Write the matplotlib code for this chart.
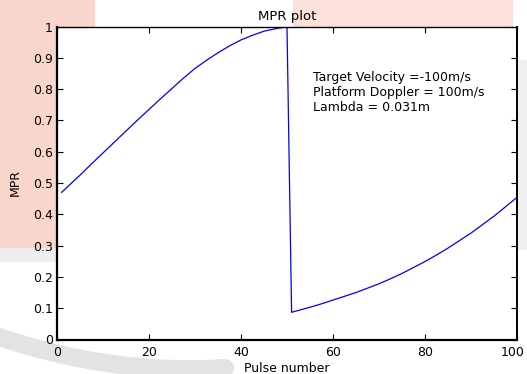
import matplotlib
matplotlib.use("Agg")
import matplotlib.pyplot as plt
from matplotlib.patches import FancyBboxPatch, Rectangle, PathPatch
from matplotlib.path import Path
from matplotlib.transforms import ScaledTranslation

plt.rcParams['font.family'] = ['DejaVu Sans']

# Data
pulse_first = [1, 5, 7.5, 10, 12.5, 15, 17.5, 20, 22.5, 25, 27.5, 30, 32.5, 35,
               37.5, 40, 42.5, 45, 47.5, 50]
mpr_first = [0.470, 0.525, 0.561, 0.596, 0.631, 0.666, 0.701, 0.735, 0.769, 0.802,
             0.835, 0.866, 0.892, 0.916, 0.938, 0.957, 0.972, 0.985, 0.993, 0.999]
pulse_second = [51, 52.5, 55, 57.5, 60, 62.5, 65, 67.5, 70, 72.5, 75, 77.5, 80,
                82.5, 85, 87.5, 90, 92.5, 95, 97.5, 100]
mpr_second = [0.087, 0.093, 0.103, 0.114, 0.126, 0.138, 0.150, 0.164, 0.178, 0.194,
              0.211, 0.230, 0.249, 0.270, 0.292, 0.316, 0.340, 0.367, 0.394, 0.424, 0.454]

pulses = pulse_first + pulse_second
mpr = mpr_first + mpr_second

x_ticks = [0, 20, 40, 60, 80, 100]
y_ticks = [0, 0.1, 0.2, 0.3, 0.4, 0.5, 0.6, 0.7, 0.8, 0.9, 1]
y_tick_labels = ['0', '0.1', '0.2', '0.3', '0.4', '0.5', '0.6', '0.7', '0.8', '0.9', '1']
annotation = "Target Velocity =-100m/s\nPlatform Doppler = 100m/s\nLambda = 0.031m"

W, H = 527, 374
fig = plt.figure(figsize=(W / 100, H / 100), dpi=100)
fig.patch.set_facecolor('white')

# Background watermark decoration (figure pixel coordinates)
bg = fig.add_axes([0, 0, 1, 1], zorder=-5)
bg.set_xlim(0, W)
bg.set_ylim(H, 0)
bg.axis('off')
pink = '#f9d6cc'
bg.add_patch(FancyBboxPatch((-40, -40), 135, 288, boxstyle="round,pad=0,rounding_size=40",
                            fc=pink, ec='none'))
bg.add_patch(Rectangle((-5, 248), 62, 14, fc='#eeeeee', ec='none'))
bg.add_patch(Rectangle((293, -5), 220, 32, fc='#fbe1d9', ec='none'))
band = Path([(-10, 334), (110, 376), (225, 368)], [Path.MOVETO, Path.CURVE3, Path.CURVE3])
bg.add_patch(PathPatch(band, fc='none', ec='#e3e3e3', lw=13, capstyle='round'))
bg.add_patch(Rectangle((518, 60), 12, 190, fc='#f0f0f0', ec='none'))

ax = fig.add_axes([57 / W, (H - 339.5) / H, 460 / W, 313 / H])
ax.set_facecolor('white')
ax.plot(pulses, mpr, color='#0000ff', lw=0.9)
ax.set_xlim(0, 100)
ax.set_ylim(0, 1)
ax.set_xticks(x_ticks)
ax.set_xticklabels([str(t) for t in x_ticks])
ax.set_yticks(y_ticks)
ax.set_yticklabels(y_tick_labels)
ax.tick_params(direction='in', length=4, width=0.8, top=True, right=True,
               labelsize=9, colors='black')
ax.tick_params(axis='x', pad=5)
ax.tick_params(axis='y', pad=3)
ax.spines['left'].set_linewidth(1.6)
ax.spines['bottom'].set_linewidth(1.6)
ax.spines['right'].set_linewidth(1.4)
ax.spines['top'].set_linewidth(1.0)
ax.set_title('MPR plot', fontsize=9.5, pad=5)
ax.set_xlabel('Pulse number', fontsize=9)
ax.set_ylabel('MPR', fontsize=9)
ax.xaxis.set_label_coords(0.5, -0.072)
ax.yaxis.set_label_coords(-0.077, 0.5)
ax.text(55.6, 0.857, annotation, fontsize=9, va='top', ha='left')

# keep the last x tick label inside the figure
last = ax.get_xticklabels()[-1]
last.set_transform(last.get_transform() + ScaledTranslation(-3.5 / 72, 0, fig.dpi_scale_trans))

fig.savefig('out.png', dpi=100)
